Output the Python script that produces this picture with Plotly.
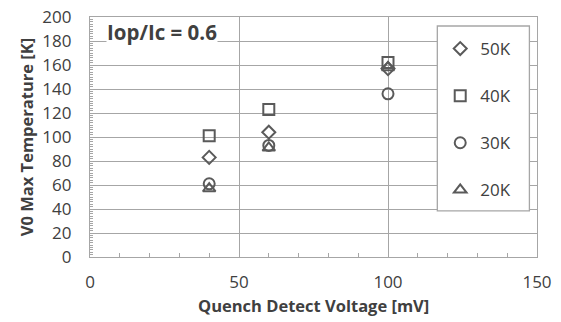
import plotly.graph_objects as go

# Quench detect voltage settings [mV]
voltage = [40, 60, 100]

# Peak V0 temperature [K] per operating temperature
t_50k = [83, 104, 157]
t_40k = [101, 123, 162]
t_30k = [61, 93, 136]
t_20k = [57, 91, 158]

series = [
    ("50K", t_50k, "diamond-open", 10),
    ("40K", t_40k, "square-open", 11),
    ("30K", t_30k, "circle-open", 11),
    ("20K", t_20k, "triangle-up-open", 11),
]

GRAY = "#5a5a5a"
TEXT = "#404040"
GRID = "#a6a6a6"

fig = go.Figure()
for i, (name, vals, sym, sz) in enumerate(series):
    fig.add_trace(go.Scatter(
        x=voltage, y=vals, mode="markers", name=name,
        legendgroup=f"g{i}",
        marker=dict(symbol=sym, size=sz, color=GRAY, line=dict(width=2, color=GRAY)),
    ))

fig.update_layout(
    width=561, height=322,
    margin=dict(l=90, r=24, t=17, b=65),
    paper_bgcolor="white", plot_bgcolor="white",
    font=dict(family="Open Sans", size=17, color=TEXT),
    showlegend=True,
    legend=dict(
        x=0.7835, y=0.9417, xanchor="left", yanchor="top",
        bgcolor="rgba(0,0,0,0)", borderwidth=0,
        font=dict(size=17, color=TEXT),
        tracegroupgap=22, traceorder="grouped",
        itemwidth=30,
    ),
    # framed white panel behind the legend entries
    shapes=[dict(
        type="rect", xref="paper", yref="paper",
        x0=0.777, x1=0.983, y0=0.192, y1=0.9625,
        fillcolor="white", line=dict(color=GRID, width=1.3), layer="above",
    )],
    xaxis=dict(
        range=[0, 150], dtick=50, showgrid=True, gridcolor=GRID, gridwidth=1.3,
        showline=True, linecolor=GRID, linewidth=1.3, mirror=True,
        ticks="", zeroline=False, automargin=False,
        minor=dict(dtick=10, ticks="inside", ticklen=4, tickcolor=GRID, showgrid=False),
        ticklabelstandoff=9,
    ),
    yaxis=dict(
        range=[0, 200], dtick=20, showgrid=True, gridcolor=GRID, gridwidth=1.3,
        showline=True, linecolor=GRID, linewidth=1.3, mirror=True,
        ticks="", zeroline=False, automargin=False,
        minor=dict(dtick=2, ticks="inside", ticklen=3, tickcolor=GRID, showgrid=False),
        title=dict(text="<b>V0 Max Temperature [K]</b>", font=dict(size=16.5, color=TEXT), standoff=4),
        ticklabelstandoff=14,
    ),
    annotations=[
        dict(
            x=0.035, y=1.0, xref="paper", yref="paper", xanchor="left", yanchor="top",
            text="<b>Iop/Ic = 0.6</b>", showarrow=False,
            font=dict(size=20.5, color=TEXT), bgcolor="white", borderpad=0,
        ),
        # x-axis title
        dict(
            x=0.5, y=-0.2, xref="paper", yref="paper", xanchor="center", yanchor="middle",
            text="<b>Quench Detect Voltage [mV]</b>", showarrow=False,
            font=dict(size=16.5, color=TEXT),
        ),
    ],
)

fig.write_html("out.html")
